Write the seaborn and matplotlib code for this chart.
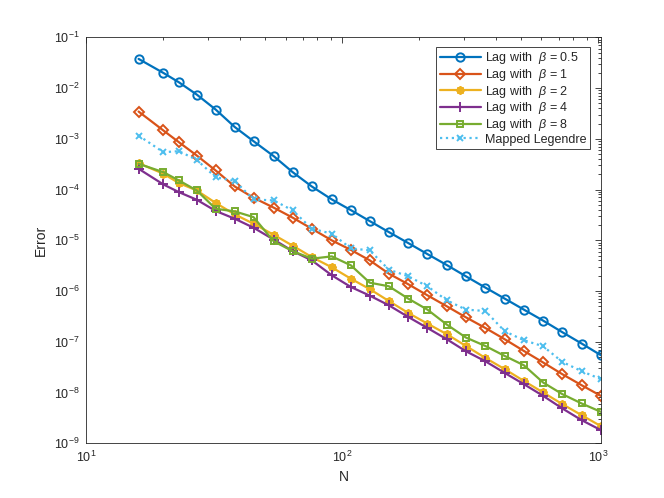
import numpy as np
import pandas as pd
import matplotlib
matplotlib.use("Agg")
import matplotlib.pyplot as plt
import seaborn as sns
from matplotlib.ticker import LogLocator, NullFormatter

# problem sizes
N = [16, 20, 23, 27, 32, 38, 45, 54, 64, 76, 91, 108, 128,
     152, 181, 215, 256, 304, 362, 431, 512, 609, 724, 861, 1024]

# errors
err_b05 = [3.76e-2, 1.99e-2, 1.30e-2, 7.45e-3, 3.78e-3, 1.71e-3, 8.97e-4, 4.54e-4,
           2.20e-4, 1.15e-4, 6.38e-5, 3.93e-5, 2.39e-5, 1.45e-5, 8.81e-6, 5.35e-6,
           3.25e-6, 1.95e-6, 1.17e-6, 7.08e-7, 4.30e-7, 2.61e-7, 1.54e-7, 9.22e-8, 5.42e-8]
err_b1 = [3.45e-3, 1.46e-3, 8.57e-4, 4.69e-4, 2.38e-4, 1.15e-4, 6.90e-5, 4.39e-5,
          2.79e-5, 1.69e-5, 9.95e-6, 6.47e-6, 4.02e-6, 2.20e-6, 1.36e-6, 8.23e-7,
          5.00e-7, 3.03e-7, 1.87e-7, 1.12e-7, 6.59e-8, 3.90e-8, 2.29e-8, 1.39e-8, 8.57e-9]
err_b2 = [3.31e-4, 2.05e-4, 1.34e-4, 9.60e-5, 5.45e-5, 3.24e-5, 2.12e-5, 1.28e-5,
          7.83e-6, 4.67e-6, 2.93e-6, 1.75e-6, 1.09e-6, 6.35e-7, 3.69e-7, 2.28e-7,
          1.41e-7, 8.26e-8, 4.80e-8, 2.88e-8, 1.69e-8, 1.00e-8, 5.89e-9, 3.57e-9, 2.17e-9]
err_b4 = [2.57e-4, 1.26e-4, 8.89e-5, 6.30e-5, 3.79e-5, 2.66e-5, 1.77e-5, 1.03e-5,
          6.12e-6, 4.02e-6, 2.04e-6, 1.20e-6, 8.11e-7, 5.23e-7, 3.08e-7, 1.87e-7,
          1.12e-7, 6.50e-8, 4.13e-8, 2.43e-8, 1.46e-8, 8.57e-9, 4.84e-9, 2.85e-9, 1.81e-9]
err_b8 = [3.22e-4, 2.20e-4, 1.51e-4, 9.60e-5, 4.19e-5, 3.71e-5, 2.86e-5, 9.51e-6,
          6.12e-6, 4.34e-6, 4.82e-6, 3.21e-6, 1.46e-6, 1.24e-6, 7.08e-7, 4.30e-7,
          2.18e-7, 1.21e-7, 8.26e-8, 5.25e-8, 3.44e-8, 1.57e-8, 9.27e-9, 6.07e-9, 4.15e-9]
err_leg = [1.16e-3, 5.45e-4, 5.70e-4, 3.86e-4, 1.75e-4, 1.48e-4, 6.38e-5, 6.10e-5,
           3.88e-5, 1.69e-5, 1.35e-5, 6.93e-6, 6.32e-6, 2.64e-6, 1.95e-6, 1.24e-6,
           6.56e-7, 4.30e-7, 4.04e-7, 1.61e-7, 1.07e-7, 8.15e-8, 4.00e-8, 2.63e-8, 1.83e-8]

labels = ["Lag with  $\\beta$ = 0.5", "Lag with  $\\beta$ = 1", "Lag with  $\\beta$ = 2",
          "Lag with  $\\beta$ = 4", "Lag with  $\\beta$ = 8", "Mapped Legendre"]
series = [err_b05, err_b1, err_b2, err_b4, err_b8, err_leg]

colors = ["#0072BD", "#D95319", "#EDB120", "#7E2F8E", "#77AC30", "#4DBEEE"]
markers = ["o", "D", (8, 2, 0), "+", "s", "x"]
msizes = [6, 5, 6, 6.5, 5, 5]
linestyles = ["-", "-", "-", "-", "-", ":"]
hollow = [True, True, False, False, True, False]

sns.set_theme(style="white")
plt.rcParams["font.family"] = ["Liberation Sans", "DejaVu Sans"]
plt.rcParams["mathtext.fontset"] = "custom"
plt.rcParams["mathtext.rm"] = "Liberation Sans"
plt.rcParams["mathtext.it"] = "Liberation Sans:italic"
plt.rcParams["axes.edgecolor"] = "#262626"
plt.rcParams["axes.linewidth"] = 0.6

fig = plt.figure(figsize=(6.64, 4.98), dpi=100)
ax = fig.add_axes([0.13, 0.11, 0.775, 0.815])

for vals, lab, c, m, ms, ls, h in zip(series, labels, colors, markers, msizes,
                                       linestyles, hollow):
    df = pd.DataFrame({"N": N, "err": vals})
    kw = dict(marker=m, color=c, linestyle=ls, linewidth=1.6, markersize=ms,
              markeredgewidth=1.4, markeredgecolor=c,
              markerfacecolor="none" if h else c)
    sns.lineplot(data=df, x="N", y="err", ax=ax, label=lab, **kw)

ax.set_xscale("log")
ax.set_yscale("log")
ax.set_xlim(10, 1024)
ax.set_ylim(1e-9, 1e-1)
ax.xaxis.set_major_locator(LogLocator(base=10, numticks=10))
ax.yaxis.set_major_locator(LogLocator(base=10, numticks=20))
ax.xaxis.set_minor_locator(LogLocator(base=10, subs=np.arange(2, 10), numticks=20))
ax.yaxis.set_minor_locator(LogLocator(base=10, subs=np.arange(2, 10), numticks=20))
ax.xaxis.set_minor_formatter(NullFormatter())
ax.yaxis.set_minor_formatter(NullFormatter())
ax.tick_params(which="both", direction="in", top=True, right=True,
               colors="#262626", labelsize=9, width=0.6)
ax.tick_params(which="major", length=4.5, pad=5)
ax.tick_params(which="minor", length=2.5)
for s in ax.spines.values():
    s.set_visible(True)
    s.set_color("#262626")

ax.set_xlabel("N", fontsize=10, color="#262626", labelpad=3)
ax.set_ylabel("Error", fontsize=10, color="#262626", labelpad=4)

leg = ax.legend(loc="upper right", bbox_to_anchor=(0.979, 0.977), borderaxespad=0,
                fontsize=9, handlelength=3.3, labelspacing=0.05, handletextpad=0.3,
                borderpad=0.3, fancybox=False, framealpha=1)
leg.get_frame().set_edgecolor("#262626")
leg.get_frame().set_linewidth(0.6)

fig.savefig("out.png", dpi=100)
